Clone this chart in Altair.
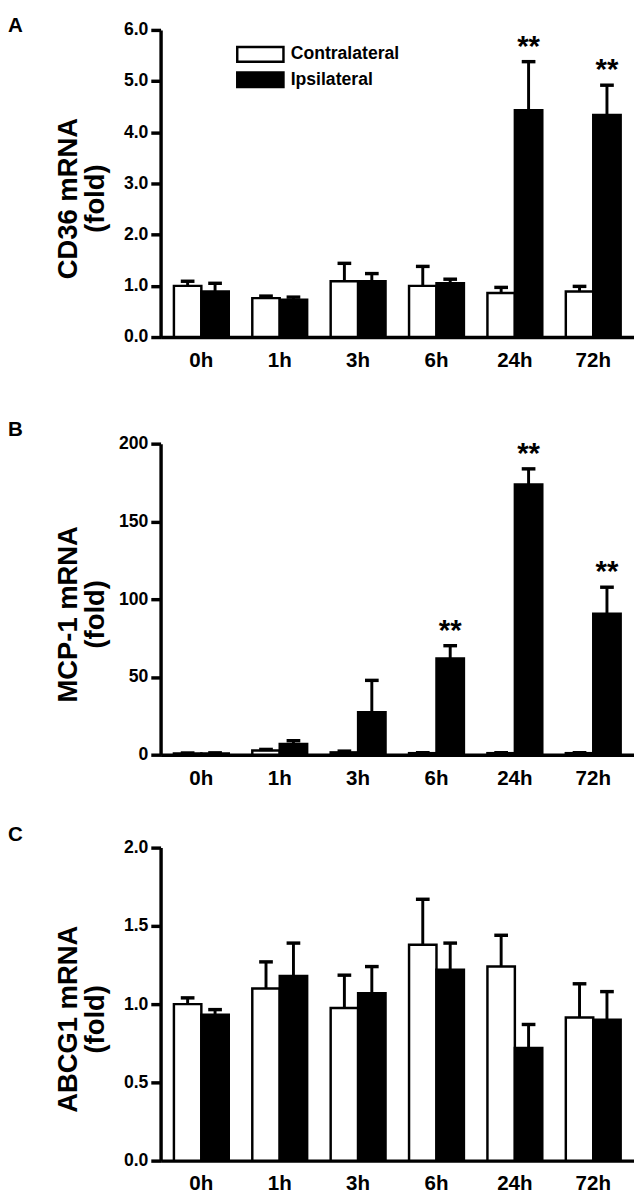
import altair as alt
import pandas as pd

FONT = "Liberation Sans"

times = ["0h", "1h", "3h", "6h", "24h", "72h"]
groups = ["Contralateral", "Ipsilateral"]

# Panel A: CD36
cd36_contra = [1.00, 0.76, 1.09, 1.00, 0.86, 0.89]
cd36_contra_err = [0.09, 0.04, 0.35, 0.38, 0.11, 0.10]
cd36_ipsi = [0.89, 0.73, 1.09, 1.05, 4.43, 4.34]
cd36_ipsi_err = [0.16, 0.05, 0.15, 0.08, 0.95, 0.58]
cd36_stars = ["", "", "", "", "**", "**"]

# Panel B: MCP-1
mcp1_contra = [0.8, 2.7, 1.5, 1.0, 1.0, 1.0]
mcp1_contra_err = [0.3, 0.7, 0.8, 0.3, 0.3, 0.3]
mcp1_ipsi = [0.8, 6.9, 27.3, 61.9, 173.8, 90.7]
mcp1_ipsi_err = [0.4, 2.1, 20.5, 8.2, 10.0, 17.0]
mcp1_stars = ["", "", "", "**", "**", "**"]

# Panel C: ABCG1
abcg1_contra = [1.00, 1.10, 0.975, 1.38, 1.24, 0.915]
abcg1_contra_err = [0.04, 0.17, 0.21, 0.29, 0.20, 0.215]
abcg1_ipsi = [0.933, 1.18, 1.07, 1.22, 0.72, 0.90]
abcg1_ipsi_err = [0.032, 0.21, 0.17, 0.17, 0.15, 0.18]
abcg1_stars = ["", "", "", "", "", ""]

PLOT_W = 484


def panel(letter, title_lines, contra, contra_err, ipsi, ipsi_err, stars,
          ymax, yvals, yfmt, h, title_offset, legend=False):
    rows = []
    for i, t in enumerate(times):
        rows.append(dict(time=t, group=groups[0], value=contra[i],
                         upper=contra[i] + contra_err[i]))
        rows.append(dict(time=t, group=groups[1], value=ipsi[i],
                         upper=ipsi[i] + ipsi_err[i]))
    df = pd.DataFrame(rows)
    star_rows = [dict(time=t, group=groups[1], upper=ipsi[i] + ipsi_err[i], star=stars[i])
                 for i, t in enumerate(times) if stars[i]]

    x = alt.X("time:N", sort=times,
              scale=alt.Scale(paddingInner=0.3, paddingOuter=0.17),
              axis=alt.Axis(title=None, ticks=False, labelAngle=0, labelFontSize=21,
                            labelPadding=13, labelFont=FONT, labelFontWeight="bold",
                            labelColor="black", domainColor="black", domainWidth=3.5))
    xo = alt.XOffset("group:N", sort=groups, scale=alt.Scale(domain=groups))
    yscale = alt.Scale(domain=[0, ymax], nice=False, zero=True)
    yaxis = alt.Axis(values=yvals, format=yfmt, title=title_lines,
                     titleFont=FONT, titleFontSize=28, titleFontWeight="bold",
                     titleColor="black", titleLineHeight=28,
                     titleX=-80, titleY=h / 2 + 15,
                     labelFont=FONT, labelFontSize=18, labelFontWeight="bold",
                     labelColor="black", labelPadding=3,
                     tickSize=10, tickWidth=3.5, tickColor="black",
                     domainColor="black", domainWidth=3.5, grid=False)

    if legend:
        leg = alt.Legend(orient="none", legendX=93, legendY=16, title=None,
                         symbolType="M-3.15,-1H3.15V1H-3.15Z", symbolSize=225,
                         symbolStrokeColor="black", symbolStrokeWidth=2.5,
                         symbolOpacity=1, labelFontSize=18, labelFont=FONT,
                         labelFontWeight="bold", labelColor="black",
                         labelOffset=22, rowPadding=0, padding=0)
    else:
        leg = None

    bars = alt.Chart(df).mark_bar(stroke="black", strokeWidth=2.5).encode(
        x=x, xOffset=xo,
        y=alt.Y("value:Q", scale=yscale, axis=yaxis),
        fill=alt.Fill("group:N", sort=groups,
                      scale=alt.Scale(domain=groups, range=["white", "black"]),
                      legend=leg),
    )
    rules = alt.Chart(df).mark_rule(color="black", strokeWidth=3).encode(
        x=x, xOffset=xo,
        y=alt.Y("value:Q", scale=yscale, axis=yaxis),
        y2="upper:Q",
    )
    caps = alt.Chart(df).mark_tick(color="black", size=14, thickness=3.5, opacity=1).encode(
        x=x, xOffset=xo,
        y=alt.Y("upper:Q", scale=yscale, axis=yaxis),
    )
    layers = [bars, rules, caps]
    if star_rows:
        sdf = pd.DataFrame(star_rows)
        stars_t = alt.Chart(sdf).mark_text(font=FONT, fontSize=30, fontWeight="bold",
                                           color="black", baseline="bottom", dy=0).encode(
            x=x, xOffset=xo,
            y=alt.Y("upper:Q", scale=yscale, axis=yaxis),
            text="star:N",
        )
        layers.append(stars_t)

    return alt.layer(*layers).properties(
        width=PLOT_W, height=h,
        title=alt.TitleParams(letter, anchor="start", frame="group", dx=-156,
                              fontSize=21, font=FONT, fontWeight="bold", color="black",
                              baseline="alphabetic", offset=title_offset),
    )


A = panel("A", ["CD36 mRNA", "(fold)"], cd36_contra, cd36_contra_err, cd36_ipsi,
          cd36_ipsi_err, cd36_stars, 6.0, [0, 1, 2, 3, 4, 5, 6], ".1f", 314, -32,
          legend=True)
B = panel("B", ["MCP-1 mRNA", "(fold)"], mcp1_contra, mcp1_contra_err, mcp1_ipsi,
          mcp1_ipsi_err, mcp1_stars, 200, [0, 50, 100, 150, 200], "d", 318, -22)
C = panel("C", ["ABCG1 mRNA", "(fold)"], abcg1_contra, abcg1_contra_err, abcg1_ipsi,
          abcg1_ipsi_err, abcg1_stars, 2.0, [0, 0.5, 1.0, 1.5, 2.0], ".1f", 320, -23)

inner = alt.vconcat(A, B, spacing=50).resolve_scale(
    x="independent", y="independent", fill="independent", xOffset="independent")
chart = alt.vconcat(inner, C, spacing=37).resolve_scale(
    x="independent", y="independent", fill="independent", xOffset="independent"
).properties(padding={"top": -6, "left": 0, "right": 0, "bottom": 0}
).configure_view(stroke=None)

chart.save("out.html", embed_options={"renderer": "svg", "actions": False})
